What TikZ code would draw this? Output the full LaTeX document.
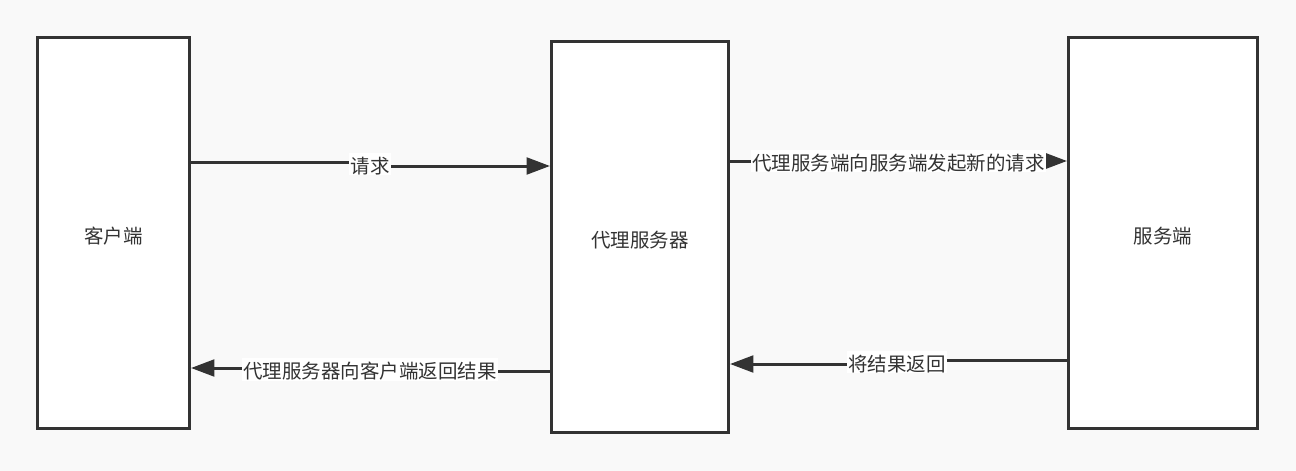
\documentclass[tikz,border=0pt]{standalone}
\usepackage{fontspec}
\newfontfamily\cjk{Noto Sans CJK SC}
\usepackage{xcolor}
\usepackage{tikz}
\usetikzlibrary{arrows.meta}
\definecolor{ink}{HTML}{333333}
\definecolor{paper}{HTML}{F9F9F9}

\begin{document}
\begin{tikzpicture}[
  x=0.75pt, y=-0.75pt,
  box/.style={rectangle, draw=ink, fill=white, line width=2.25pt, align=center,
              inner sep=0pt, font=\cjk\fontsize{14.6}{17}\selectfont, text=ink,
              text height=15pt, text depth=0pt},
  lbl/.style={fill=white, inner sep=1pt, font=\cjk\fontsize{14.6}{17}\selectfont, text=ink,
              text height=14.5pt, text depth=0.5pt},
  arr/.style={-{Triangle[length=17.5pt, width=12.5pt]}, draw=ink, line width=2.25pt}
]
\fill[paper] (0,0) rectangle (1296,471);
\useasboundingbox (0,0) rectangle (1296,471);
\node[box, minimum width=114pt, minimum height=293.25pt] (client) at (113.5,233) {客户端};
\node[box, minimum width=132.75pt, minimum height=293.25pt] (proxy) at (640,237) {代理服务器};
\node[box, minimum width=141.75pt, minimum height=293.25pt] (server) at (1163,233) {服务端};
\draw[arr] (client.east |- 0,162) -- (370,162) -- node[lbl]{请求} (370,166) -- (proxy.west |- 0,166);
\draw[arr] (proxy.east |- 0,161) -- node[lbl]{代理服务端向服务端发起新的请求} (server.west |- 0,161);
\draw[arr] (proxy.west |- 0,371) -- (370,371) -- node[lbl]{代理服务器向客户端返回结果} (370,368) -- (client.east |- 0,368);
\draw[arr] (server.west |- 0,360) -- (897,360) -- node[lbl]{将结果返回} (897,364) -- (proxy.east |- 0,364);
\end{tikzpicture}
\end{document}
